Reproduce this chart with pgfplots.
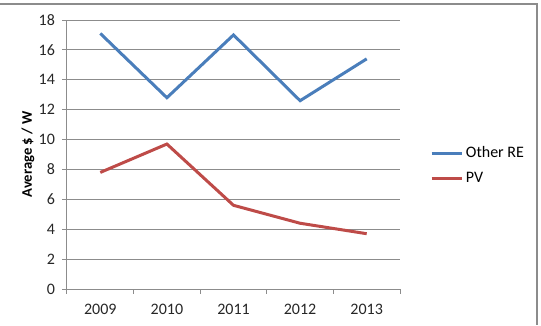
\documentclass[border=0pt]{standalone}
\usepackage{pgfplots}
\pgfplotsset{compat=1.18}
\usepackage{fontspec}
\setmainfont{Carlito}
\definecolor{reblue}{HTML}{4A7EBB}
\definecolor{pvred}{HTML}{BE4B48}
\definecolor{gridgray}{HTML}{8C8C8C}
\begin{document}
\begin{tikzpicture}
\path[use as bounding box] (-50.25pt,-27pt) rectangle (355.5pt,216.75pt);
\begin{axis}[
  at={(0,0)}, anchor=south west,
  scale only axis,
  width=249.75pt, height=201.75pt,
  xmin=-0.5, xmax=4.5, ymin=0, ymax=18,
  xtick={0,1,2,3,4},
  xticklabels={2009,2010,2011,2012,2013},
  minor xtick={-0.5,0.5,1.5,2.5,3.5,4.5},
  ytick={0,2,...,18},
  major x tick style={draw=none},
  tick align=outside,
  major tick length=3.5pt,
  minor tick length=3.5pt,
  tick style={gridgray, line width=0.75pt},
  axis x line*=bottom, axis y line*=left,
  axis line style={gridgray, line width=0.75pt, -},
  ymajorgrids,
  grid style={gridgray, line width=0.75pt},
  /pgf/number format/assume math mode=true,
  tick label style={font=\fontsize{12}{14}\selectfont, text=black!85},
  xticklabel style={yshift=-4pt},
  yticklabel style={xshift=-2pt},
  ylabel={\textbf{Average \$ / W}},
  ylabel style={at={(axis description cs:-0.117,0.5)}, anchor=center, font=\fontsize{11}{13}\selectfont},
  legend style={at={(1.09,0.459)}, anchor=west, draw=none, fill=none,
    font=\fontsize{12}{14}\selectfont, row sep=5pt, inner sep=0pt},
  legend cell align=left,
  legend image code/.code={\draw[#1] (0pt,0pt) -- (22.5pt,0pt);},
]
\addplot[reblue, line width=2.25pt] coordinates {(0,17.1) (1,12.8) (2,17.0) (3,12.6) (4,15.4)};
\addlegendentry{Other RE}
\addplot[pvred, line width=2.25pt] coordinates {(0,7.8) (1,9.7) (2,5.6) (3,4.4) (4,3.7)};
\addlegendentry{PV}
\end{axis}
\draw[gridgray, line width=1.5pt] (-50.25pt,213.75pt) -- (352.5pt,213.75pt) -- (352.5pt,-27pt);
\end{tikzpicture}
\end{document}
